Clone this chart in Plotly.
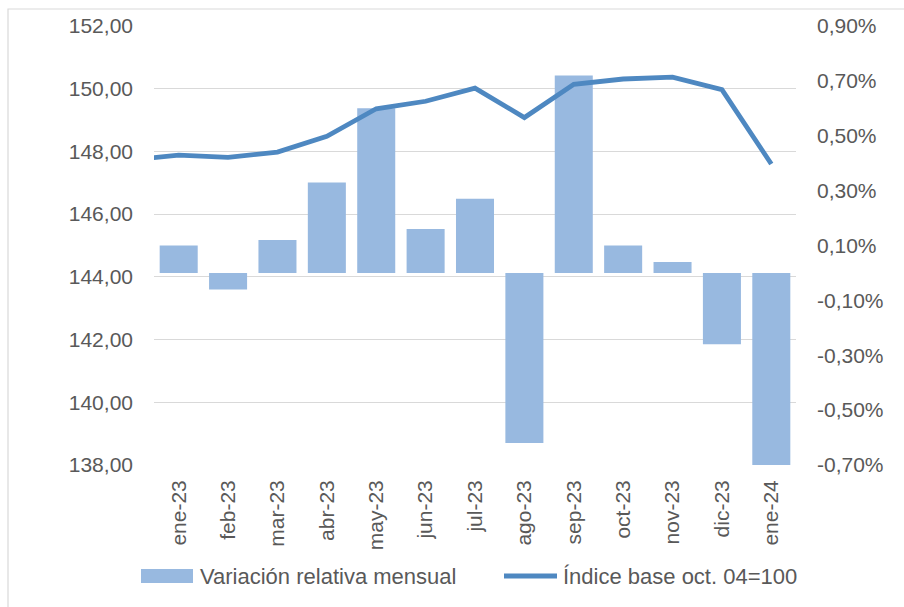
import plotly.graph_objects as go

# ---- data ----
meses = ["ene-23", "feb-23", "mar-23", "abr-23", "may-23", "jun-23", "jul-23",
         "ago-23", "sep-23", "oct-23", "nov-23", "dic-23", "ene-24"]
variacion = [0.10, -0.06, 0.12, 0.33, 0.60, 0.16, 0.27, -0.62, 0.72, 0.10, 0.04, -0.26, -0.70]
indice_previo = 147.72  # dic-22, only partly visible at left edge
indice = [147.88, 147.81, 147.98, 148.48, 149.36, 149.60, 150.02,
          149.08, 150.14, 150.31, 150.37, 149.97, 147.60]
ticks_izq = [138, 140, 142, 144, 146, 148, 150, 152]
ticks_der = [-0.7, -0.5, -0.3, -0.1, 0.1, 0.3, 0.5, 0.7, 0.9]

nombre_barras = "Variación relativa mensual"
nombre_linea = "Índice base oct. 04=100"

BAR_COLOR = "#98b9e0"
LINE_COLOR = "#4e88c1"
TEXT_COLOR = "#595959"
GRID_COLOR = "#d9d9d9"
FONT = "Liberation Sans, Arial, sans-serif"

W, H = 904, 607
L, R, T, B = 154, 108, 26, 142
PW, PH = W - L - R, H - T - B


def px(x):
    return (x - L) / PW


def py(y):
    return (H - B - y) / PH


def fmt_num(v, dec=2):
    return f"{v:.{dec}f}".replace(".", ",")


x_idx = list(range(len(meses)))

fig = go.Figure()
fig.add_trace(go.Bar(
    x=x_idx, y=variacion, name=nombre_barras, marker=dict(color=BAR_COLOR, line=dict(width=0)),
    yaxis="y", showlegend=False,
))
fig.add_trace(go.Scatter(
    x=[-1] + x_idx, y=[indice_previo] + indice, name=nombre_linea, mode="lines",
    line=dict(color=LINE_COLOR, width=4.8), yaxis="y2", showlegend=False,
))

fig.update_layout(
    width=W, height=H,
    margin=dict(l=L, r=R, t=T, b=B, pad=0),
    paper_bgcolor="white", plot_bgcolor="white",
    font=dict(family=FONT, size=21, color=TEXT_COLOR),
    bargap=0.23,
    xaxis=dict(
        range=[-0.5, len(meses) - 0.5],
        tickmode="array", tickvals=x_idx, ticktext=meses,
        tickangle=-90, showgrid=False, zeroline=False, showline=False,
        ticks="", ticklabelstandoff=10,
        tickfont=dict(size=21, color=TEXT_COLOR),
    ),
    yaxis=dict(
        side="right", range=[-0.7, 0.9],
        tickmode="array", tickvals=ticks_der,
        ticktext=[fmt_num(v) + "%" for v in ticks_der],
        showgrid=False, zeroline=False, showline=False, ticks="",
        ticklabelstandoff=20,
        tickfont=dict(size=21, color=TEXT_COLOR),
    ),
    yaxis2=dict(
        side="left", overlaying="y", range=[138, 152],
        tickmode="array", tickvals=ticks_izq,
        ticktext=[fmt_num(v) for v in ticks_izq],
        showgrid=True, gridcolor=GRID_COLOR, gridwidth=1.4,
        zeroline=False, showline=False, ticks="",
        ticklabelstandoff=20,
        tickfont=dict(size=21, color=TEXT_COLOR),
    ),
    shapes=[
        # outer chart border (left & top visible)
        dict(type="rect", xref="paper", yref="paper",
             x0=px(8), x1=px(W + 10), y0=py(H + 10), y1=py(9),
             line=dict(color=GRID_COLOR, width=1.2), fillcolor="rgba(0,0,0,0)", layer="below"),
        # legend swatches
        dict(type="rect", xref="paper", yref="paper",
             x0=px(141), x1=px(193), y0=py(583), y1=py(569),
             line=dict(width=0), fillcolor=BAR_COLOR),
        dict(type="line", xref="paper", yref="paper",
             x0=px(504), x1=px(557), y0=py(576), y1=py(576),
             line=dict(color=LINE_COLOR, width=4.8)),
    ],
    annotations=[
        dict(text=nombre_barras, xref="paper", yref="paper", x=px(198), y=py(576),
             xanchor="left", yanchor="middle", showarrow=False,
             font=dict(size=22, color=TEXT_COLOR)),
        dict(text=nombre_linea, xref="paper", yref="paper", x=px(561), y=py(576),
             xanchor="left", yanchor="middle", showarrow=False,
             font=dict(size=22, color=TEXT_COLOR)),
    ],
)

fig.write_html("out.html", config={"displayModeBar": False},
               post_script="document.body.style.margin='0';")
